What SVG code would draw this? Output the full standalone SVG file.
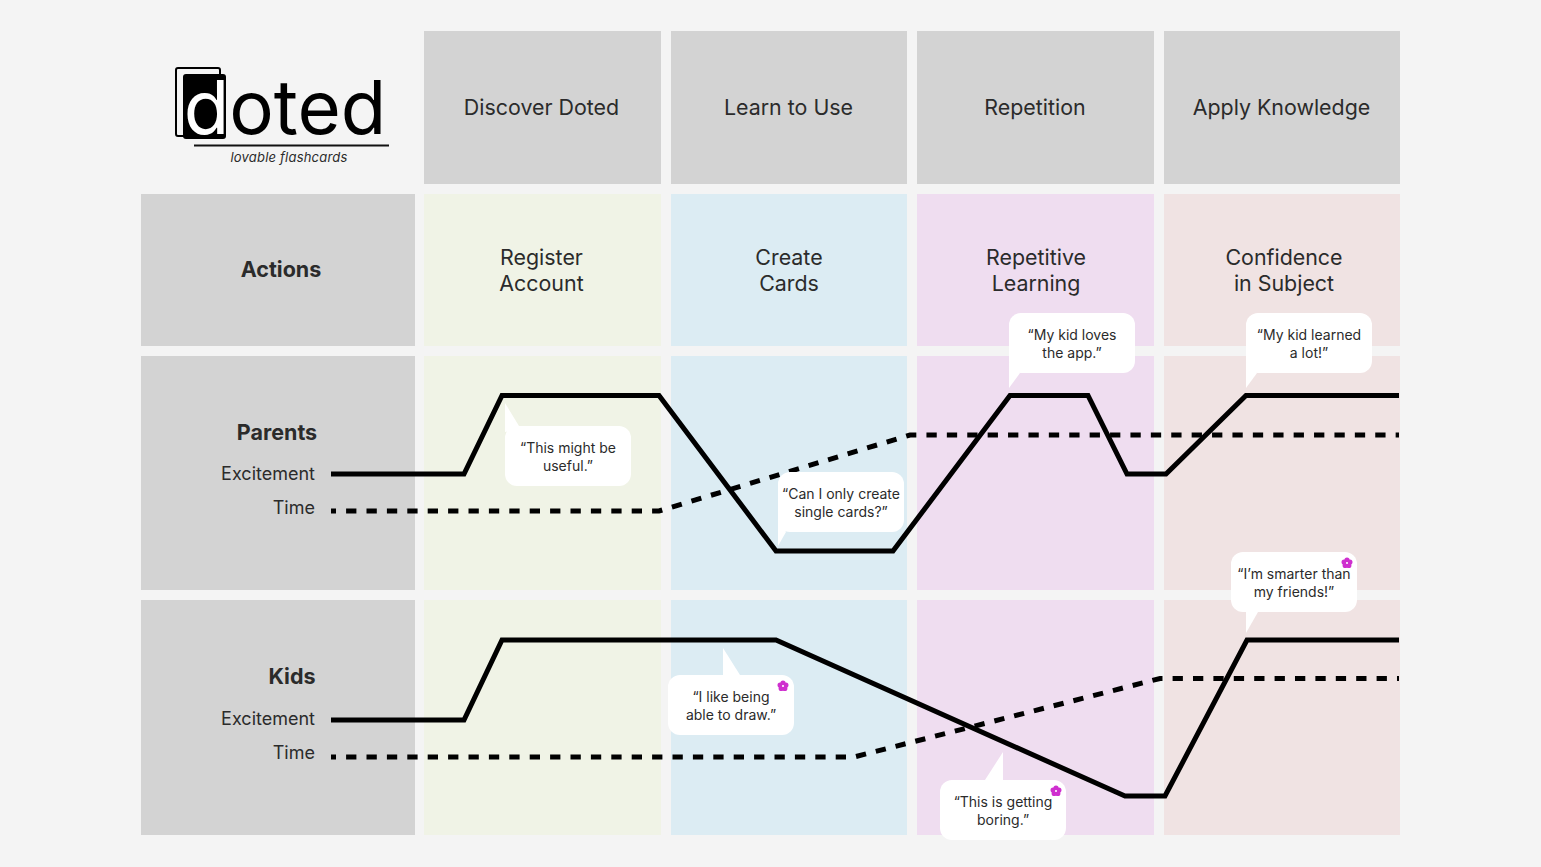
<svg xmlns="http://www.w3.org/2000/svg" width="1541" height="867" viewBox="0 0 1541 867">
<style>
text{font-family:Inter,"Noto Sans","Liberation Sans",sans-serif;fill:#2b2b2b;text-anchor:middle}
.h{font-size:21.4px}
.b{font-size:21.5px;font-weight:700}
.l{font-size:18px;text-anchor:end}
.q{font-size:14px}
.g{fill:#d3d3d3}.a{fill:#f0f3e6}.c{fill:#dcecf3}.p{fill:#efddf0}.r{fill:#f0e3e3}
.s{fill:none;stroke:#000;stroke-width:5}
.d{fill:none;stroke:#000;stroke-width:5;stroke-dasharray:10.3 10.1;stroke-dashoffset:5.300}
.w{fill:#fff}
.f{fill:#cf2fcf}
</style>
<defs>
<g id="flower"><circle cx="0" cy="-3" r="2.600" class="f"/><circle cx="2.900" cy="-0.900" r="2.600" class="f"/><circle cx="1.800" cy="2.400" r="2.600" class="f"/><circle cx="-1.800" cy="2.400" r="2.600" class="f"/><circle cx="-2.900" cy="-0.900" r="2.600" class="f"/><circle cx="0" cy="0" r="1" fill="#fff"/></g>
</defs>
<rect width="1541" height="867" fill="#f4f4f4"/>
<g id="logo">
<rect x="176" y="68" width="44" height="68" rx="2" fill="none" stroke="#000" stroke-width="2"/>
<rect x="183" y="74" width="43" height="65" rx="3" fill="#000"/>
<text x="285" y="134" style="font-size:74.300px;font-weight:400">
<tspan style="fill:#fff">d</tspan><tspan style="fill:#000">oted</tspan></text>
<rect x="194" y="144.500" width="195" height="2" fill="#111"/>
<text x="289" y="162" style="font-size:13px;font-style:italic;letter-spacing:0.200px">lovable flashcards</text>
</g>
<g id="header-discover"><rect class="g" x="424" y="31" width="237" height="153"/><text class="h" x="541.500" y="115">Discover Doted</text></g>
<g id="header-learn"><rect class="g" x="671" y="31" width="236" height="153"/><text class="h" x="788.500" y="115">Learn to Use</text></g>
<g id="header-repetition"><rect class="g" x="917" y="31" width="237" height="153"/><text class="h" x="1035" y="115">Repetition</text></g>
<g id="header-apply"><rect class="g" x="1164" y="31" width="236" height="153"/><text class="h" x="1281.500" y="115">Apply Knowledge</text></g>
<g id="row-actions"><rect class="g" x="141" y="194" width="274" height="152"/><text class="b" x="281" y="277">Actions</text></g>
<g id="action-register"><rect class="a" x="424" y="194" width="237" height="152"/><text class="h" x="541.500" y="265">Register</text><text class="h" x="541.500" y="291">Account</text></g>
<g id="action-create"><rect class="c" x="671" y="194" width="236" height="152"/><text class="h" x="789" y="265">Create</text><text class="h" x="789" y="291">Cards</text></g>
<g id="action-repetitive"><rect class="p" x="917" y="194" width="237" height="152"/><text class="h" x="1036" y="265">Repetitive</text><text class="h" x="1036" y="291">Learning</text></g>
<g id="action-confidence"><rect class="r" x="1164" y="194" width="236" height="152"/><text class="h" x="1284" y="265">Confidence</text><text class="h" x="1284" y="291">in Subject</text></g>
<g id="row-parents"><rect class="g" x="141" y="356" width="274" height="234"/><text class="b" x="277" y="440">Parents</text><text class="l" x="315" y="480">Excitement</text><text class="l" x="315" y="514">Time</text></g>
<g id="parents-1"><rect class="a" x="424" y="356" width="237" height="234"/></g>
<g id="parents-2"><rect class="c" x="671" y="356" width="236" height="234"/></g>
<g id="parents-3"><rect class="p" x="917" y="356" width="237" height="234"/></g>
<g id="parents-4"><rect class="r" x="1164" y="356" width="236" height="234"/></g>
<g id="row-kids"><rect class="g" x="141" y="600" width="274" height="235"/><text class="b" x="292" y="684">Kids</text><text class="l" x="315" y="725">Excitement</text><text class="l" x="315" y="759">Time</text></g>
<g id="kids-1"><rect class="a" x="424" y="600" width="237" height="235"/></g>
<g id="kids-2"><rect class="c" x="671" y="600" width="236" height="235"/></g>
<g id="kids-3"><rect class="p" x="917" y="600" width="237" height="235"/></g>
<g id="kids-4"><rect class="r" x="1164" y="600" width="236" height="235"/></g>
<g id="connectors">
<polyline class="s" points="331,474 464,474 502,395.500 659,395.500 776,551 893,551 1010,395.500 1088,395.500 1127,474 1166,474 1246,395.500 1399,395.500"/>
<polyline class="d" points="331,511 659,511 910,435 1399,435"/>
<polyline class="s" points="331,720 464,720 502,640 776,640 1125,796 1165,796 1247,640 1399,640"/>
<polyline class="d" points="331,757 854,757 1160,678.500 1399,678.500"/>
</g>
<g id="quote-useful"><rect class="w" x="505" y="426" width="126" height="60" rx="12"/><polygon class="w" points="505,403 505,432 530,426 519,426"/><text class="q" x="568" y="453">“This might be</text><text class="q" x="568" y="471">useful.”</text></g>
<g id="quote-single"><rect class="w" x="778" y="472" width="126" height="60" rx="12"/><polygon class="w" points="778,546 778,520 786,532"/><text class="q" x="841" y="499">“Can I only create</text><text class="q" x="841" y="517">single cards?”</text></g>
<g id="quote-loves"><rect class="w" x="1009" y="313" width="126" height="60" rx="12"/><polygon class="w" points="1009,388 1009,362 1020,373"/><text class="q" x="1072" y="340">“My kid loves</text><text class="q" x="1072" y="358">the app.”</text></g>
<g id="quote-learned"><rect class="w" x="1246" y="313" width="126" height="60" rx="12"/><polygon class="w" points="1246,388 1246,362 1257,373"/><text class="q" x="1309" y="340">“My kid learned</text><text class="q" x="1309" y="358">a lot!”</text></g>
<g id="quote-smarter"><rect class="w" x="1231" y="552" width="126" height="60" rx="12"/><polygon class="w" points="1246,633 1246,610 1258,612"/><text class="q" x="1294" y="579">“I’m smarter than</text><text class="q" x="1294" y="597">my friends!”</text><use href="#flower" x="1347" y="563"/></g>
<g id="quote-draw"><rect class="w" x="668" y="675" width="126" height="60" rx="12"/><polygon class="w" points="723,648 723,677 740,675"/><text class="q" x="731" y="702">“I like being</text><text class="q" x="731" y="720">able to draw.”</text><use href="#flower" x="783" y="686"/></g>
<g id="quote-boring"><rect class="w" x="940" y="780" width="126" height="60" rx="12"/><polygon class="w" points="1003,752 985,780 1003,782"/><text class="q" x="1003" y="807">“This is getting</text><text class="q" x="1003" y="825">boring.”</text><use href="#flower" x="1056" y="791"/></g>
</svg>
